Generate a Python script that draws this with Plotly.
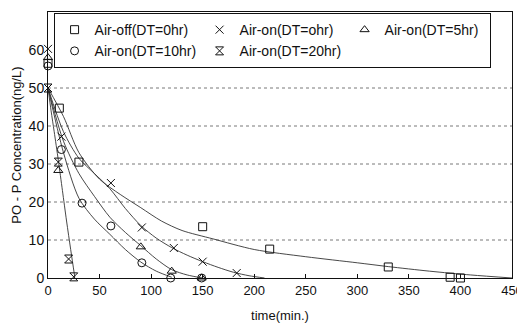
import plotly.graph_objects as go

# ---- measured points (time in min, PO-P concentration) ----
off_t = [0, 11, 30, 150, 215, 330, 390, 400, 450]
off_c = [56.5, 44.7, 30.5, 13.5, 7.6, 2.9, 0.2, 0.0, -0.8]

on0_t = [0, 13, 61, 91, 122, 150, 183, 210]
on0_c = [60.3, 37.2, 25.0, 13.3, 7.9, 4.3, 1.3, -0.3]

on5_t = [0, 10, 25, 90, 120, 149]
on5_c = [58.0, 28.3, -1.0, 8.2, 1.8, 0.0]

on10_t = [0, 13, 33, 61, 91, 119, 149]
on10_c = [55.8, 33.8, 19.7, 13.7, 4.0, 0.0, 0.0]

on20_t = [0, 10, 20, 25]
on20_c = [50.0, 30.5, 5.0, 0.3]

# ---- fitted curves ----
off_fit_t = [0, 15, 30, 50, 70, 90, 110, 130, 160, 200, 250, 300, 330, 370, 410, 450]
off_fit_c = [50, 42.5, 33, 26, 22, 18.5, 15, 12.5, 10.3, 7.5, 5.6, 4.0, 3.0, 1.8, 0.8, 0.0]

on0_fit_t = [0, 15, 30, 45, 60, 75, 90, 105, 120, 135, 150, 165, 180, 195, 210]
on0_fit_c = [50, 38.5, 31.5, 27.5, 23.5, 18.3, 13.8, 10.5, 8.0, 6.0, 4.3, 2.8, 1.5, 0.6, 0.0]

on5_fit_t = [0, 15, 30, 45, 60, 75, 90, 105, 120, 135, 150]
on5_fit_c = [50, 36, 27.5, 21.5, 16, 12, 8.5, 5, 2.2, 0.8, 0.0]

on10_fit_t = [0, 15, 30, 45, 60, 75, 90, 105, 120]
on10_fit_c = [50, 33, 21, 15.5, 11.5, 7.5, 4.2, 1.8, 0.2]

on20_fit_t = [0, 3, 6, 10, 14, 18, 22, 26]
on20_fit_c = [50, 44, 38.5, 31, 23, 15, 7.5, 0.2]

names = ["Air-off(DT=0hr)", "Air-on(DT=ohr)", "Air-on(DT=5hr)",
         "Air-on(DT=10hr)", "Air-on(DT=20hr)"]
symbols = ["square-open", "x-thin-open", "triangle-up-open", "circle-open", "hourglass-open"]

grid_levels = [10, 20, 30, 40, 50]
x_ticks = [0, 50, 100, 150, 200, 250, 300, 350, 400, 450]
y_ticks = [0, 10, 20, 30, 40, 50, 60, 70]

pts = [(off_t, off_c), (on0_t, on0_c), (on5_t, on5_c), (on10_t, on10_c), (on20_t, on20_c)]
fits = [(off_fit_t, off_fit_c), (on0_fit_t, on0_fit_c), (on5_fit_t, on5_fit_c),
        (on10_fit_t, on10_fit_c), (on20_fit_t, on20_fit_c)]

fig = go.Figure()
for (ft, fc) in fits:
    fig.add_trace(go.Scatter(x=ft, y=fc, mode="lines", showlegend=False,
                             line=dict(color="#333333", width=0.9, shape="spline", smoothing=0.8),
                             cliponaxis=False, hoverinfo="skip"))
for (t, c), nm, sym in zip(pts, names, symbols):
    fig.add_trace(go.Scatter(x=t, y=c, mode="markers", name=nm, cliponaxis=False,
                             marker=dict(symbol=sym, size=8, color="#111111",
                                         line=dict(color="#111111", width=1))))

for g in grid_levels:
    fig.add_shape(type="line", xref="paper", x0=0, x1=1, yref="y", y0=g, y1=g,
                  line=dict(color="#555555", width=0.8, dash="dot"), layer="below")

fig.update_layout(
    width=517, height=319,
    margin=dict(l=40, r=13, t=4, b=49, autoexpand=False),
    paper_bgcolor="white", plot_bgcolor="white",
    font=dict(family="Liberation Sans, Arial, sans-serif", size=13, color="#111111"),
    legend=dict(orientation="h", x=0.012, y=0.996, xanchor="left", yanchor="top",
                bgcolor="white", bordercolor="#111111", borderwidth=1,
                entrywidth=100, entrywidthmode="pixels",
                font=dict(size=14), itemwidth=30),
)
fig.update_xaxes(range=[0, 450], tickvals=x_ticks, showgrid=False, zeroline=False,
                 showline=True, linecolor="#111111", linewidth=1, mirror=True,
                 ticks="inside", ticklen=4, tickcolor="#111111", automargin=False,
                 title=dict(text="time(min.)", standoff=14, font=dict(size=13)),
                 tickfont=dict(size=13))
fig.update_yaxes(range=[0, 70], tickvals=y_ticks, showgrid=False, zeroline=False,
                 showline=True, linecolor="#111111", linewidth=1, mirror=True,
                 ticks="", automargin=False,
                 title=dict(text="PO - P Concentration(ng/L)", standoff=4,
                            font=dict(size=13)),
                 tickfont=dict(size=14))

fig.write_html("out.html")
